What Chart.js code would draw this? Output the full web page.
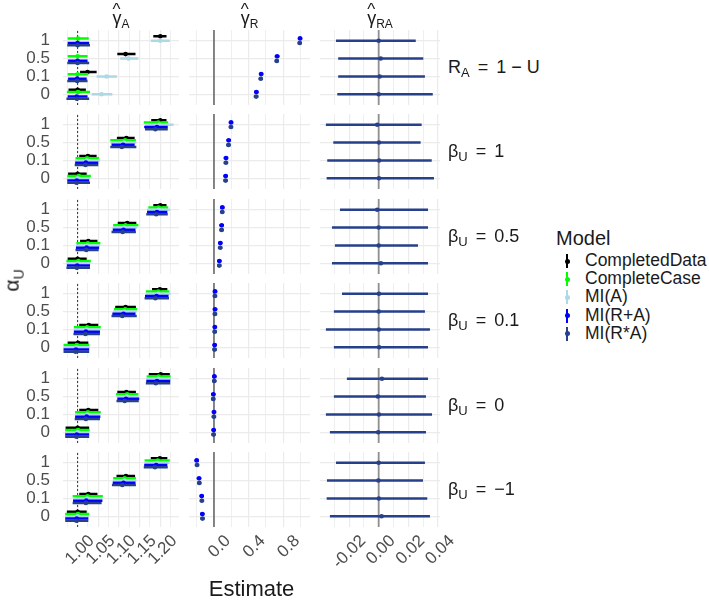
<!DOCTYPE html>
<html><head><meta charset="utf-8">
<script src="https://cdn.jsdelivr.net/npm/chart.js@4.4.1/dist/chart.umd.min.js"></script>
<style>
body{margin:0;background:#fff;}
#wrap{position:relative;width:709px;height:600px;overflow:hidden;background:#fff;font-family:"Liberation Sans",Arial,sans-serif;}
canvas{position:absolute;}
.t{position:absolute;white-space:nowrap;color:#1a1a1a;line-height:1;}
sub{vertical-align:baseline;position:relative;}
</style></head><body><div id="wrap"></div>
<script>
// ---------------- data ----------------
const alphaLevels = ["0","0.1","0.5","1"];
const models = ["CompletedData","CompleteCase","MI(A)","MI(R+A)","MI(R*A)"];
const modelColors = ["#000000","#00FF00","#ADD8E6","#0000FF","#27408B"];
const rowSymbol = ["R","β","β","β","β","β"];
const rowSub = ["A","U","U","U","U","U"];
const rowValue = ["1 − U","1","0.5","0.1","0","−1"];
const colHeadSub = ["A","R","RA"];

// gamma_A : [row][model][alpha 0,0.1,0.5,1]
const gA_est = [
 [[1.000,1.024,1.116,1.200],[1.001,1.000,1.000,1.001],[1.058,1.070,1.123,1.200],[0.998,0.999,1.000,1.000],[0.998,0.999,1.000,1.000]],
 [[1.000,1.025,1.118,1.200],[1.003,1.023,1.115,1.195],[1.000,1.022,1.112,1.198],[0.998,1.020,1.110,1.192],[0.997,1.019,1.107,1.188]],
 [[1.000,1.026,1.120,1.200],[1.002,1.025,1.116,1.196],[1.001,1.024,1.113,1.196],[0.999,1.022,1.111,1.192],[0.998,1.021,1.109,1.190]],
 [[1.001,1.027,1.116,1.199],[0.998,1.023,1.115,1.195],[0.997,1.022,1.113,1.195],[0.996,1.020,1.111,1.191],[0.995,1.019,1.108,1.188]],
 [[1.000,1.026,1.118,1.201],[1.001,1.025,1.120,1.196],[1.000,1.024,1.119,1.195],[0.998,1.022,1.117,1.192],[0.997,1.020,1.114,1.189]],
 [[1.000,1.026,1.117,1.199],[1.001,1.024,1.114,1.194],[1.000,1.023,1.113,1.193],[0.998,1.021,1.111,1.190],[0.997,1.020,1.108,1.187]]
];
const gA_lo = [
 [[0.978,1.006,1.096,1.183],[0.974,0.976,0.976,0.976],[1.034,1.046,1.103,1.177],[0.976,0.977,0.977,0.976],[0.973,0.975,0.975,0.975]],
 [[0.977,1.004,1.095,1.178],[0.975,0.995,1.079,1.160],[0.974,0.994,1.080,1.163],[0.975,0.994,1.082,1.161],[0.975,0.993,1.079,1.163]],
 [[0.976,1.006,1.097,1.183],[0.973,0.997,1.086,1.171],[0.973,0.996,1.085,1.168],[0.974,0.996,1.085,1.168],[0.973,0.995,1.082,1.166]],
 [[0.976,1.004,1.091,1.180],[0.966,0.991,1.088,1.165],[0.966,0.991,1.086,1.165],[0.966,0.991,1.084,1.163],[0.966,0.990,1.082,1.162]],
 [[0.971,1.004,1.096,1.172],[0.970,0.994,1.093,1.167],[0.970,0.994,1.094,1.166],[0.970,0.994,1.096,1.166],[0.970,0.993,1.094,1.165]],
 [[0.974,1.004,1.094,1.177],[0.970,0.988,1.086,1.162],[0.970,0.989,1.085,1.162],[0.970,0.989,1.085,1.161],[0.970,0.988,1.083,1.160]]
];
const gA_hi = [
 [[1.020,1.046,1.140,1.215],[1.030,1.026,1.024,1.027],[1.084,1.095,1.147,1.223],[1.024,1.022,1.024,1.028],[1.028,1.024,1.028,1.030]],
 [[1.022,1.046,1.138,1.215],[1.032,1.052,1.141,1.219],[1.030,1.054,1.142,1.232],[1.028,1.050,1.138,1.218],[1.030,1.050,1.142,1.218]],
 [[1.022,1.048,1.142,1.215],[1.032,1.055,1.147,1.219],[1.031,1.054,1.144,1.224],[1.030,1.052,1.140,1.217],[1.030,1.051,1.141,1.218]],
 [[1.026,1.050,1.141,1.217],[1.028,1.056,1.144,1.222],[1.029,1.055,1.143,1.225],[1.028,1.054,1.140,1.220],[1.028,1.054,1.143,1.221]],
 [[1.028,1.050,1.141,1.223],[1.029,1.056,1.147,1.225],[1.029,1.055,1.148,1.226],[1.028,1.055,1.149,1.224],[1.028,1.054,1.148,1.224]],
 [[1.022,1.048,1.139,1.217],[1.028,1.061,1.141,1.223],[1.027,1.060,1.142,1.222],[1.026,1.060,1.140,1.217],[1.026,1.058,1.141,1.218]]
];

// gamma_R : [row][MI(R+A), MI(R*A)][alpha]
const gR_est = [
 [[0.490,0.545,0.730,0.995],[0.487,0.541,0.726,0.991]],
 [[0.135,0.139,0.170,0.197],[0.134,0.138,0.168,0.196]],
 [[0.062,0.073,0.089,0.096],[0.061,0.072,0.088,0.095]],
 [[0.008,0.010,0.012,0.012],[0.007,0.009,0.011,0.011]],
 [[-0.004,0.000,-0.008,0.004],[-0.005,-0.001,-0.009,0.003]],
 [[-0.135,-0.142,-0.173,-0.200],[-0.133,-0.140,-0.170,-0.196]]
];
const gR_lo = [
 [[0.464,0.519,0.703,0.969],[0.460,0.515,0.700,0.966]],
 [[0.108,0.112,0.144,0.171],[0.108,0.111,0.141,0.170]],
 [[0.036,0.046,0.062,0.070],[0.035,0.045,0.061,0.069]],
 [[-0.018,-0.016,-0.014,-0.014],[-0.019,-0.017,-0.015,-0.015]],
 [[-0.030,-0.026,-0.034,-0.022],[-0.031,-0.027,-0.035,-0.023]],
 [[-0.161,-0.168,-0.199,-0.226],[-0.159,-0.166,-0.196,-0.222]]
];
const gR_hi = [
 [[0.516,0.571,0.757,1.021],[0.514,0.567,0.752,1.017]],
 [[0.161,0.165,0.196,0.223],[0.160,0.164,0.194,0.222]],
 [[0.088,0.099,0.115,0.122],[0.087,0.098,0.114,0.121]],
 [[0.034,0.036,0.038,0.038],[0.033,0.035,0.037,0.037]],
 [[0.022,0.026,0.018,0.030],[0.021,0.025,0.017,0.029]],
 [[-0.109,-0.116,-0.147,-0.174],[-0.107,-0.114,-0.144,-0.170]]
];

// gamma_RA : [row][alpha]  (MI(R*A) only)
const gRA_est = [
 [0.0000,0.0007,0.0014,0.0000],
 [0.0002,0.0003,0.0002,-0.0010],
 [0.0015,0.0000,0.0000,-0.0010],
 [0.0003,0.0001,0.0000,0.0002],
 [-0.0003,0.0002,-0.0006,0.0022],
 [0.0020,0.0001,-0.0002,0.0000]
];
const gRA_lo = [
 [-0.0280,-0.0274,-0.0274,-0.0289],
 [-0.0352,-0.0348,-0.0307,-0.0357],
 [-0.0316,-0.0296,-0.0316,-0.0262],
 [-0.0303,-0.0357,-0.0303,-0.0248],
 [-0.0330,-0.0357,-0.0303,-0.0215],
 [-0.0330,-0.0352,-0.0350,-0.0289]
];
const gRA_hi = [
 [0.0366,0.0313,0.0302,0.0251],
 [0.0374,0.0359,0.0284,0.0291],
 [0.0334,0.0266,0.0334,0.0334],
 [0.0334,0.0347,0.0313,0.0334],
 [0.0320,0.0361,0.0320,0.0334],
 [0.0347,0.0329,0.0300,0.0313]
];

// axis ticks
const xMajor = [[1.00,1.05,1.10,1.15,1.20],[0.0,0.4,0.8],[-0.02,0.00,0.02,0.04]];
const xMajorLabels = [["1.00","1.05","1.10","1.15","1.20"],["0.0","0.4","0.8"],["-0.02","0.00","0.02","0.04"]];
const xMinor = [[0.975,1.025,1.075,1.125,1.175,1.225],[-0.2,0.2,0.6,1.0],[-0.03,-0.01,0.01,0.03]];
const refX = [1, 0, 0];

// ---------------- layout ----------------
const colL=[63,189,320], colW=[116,121,120];
const rowT=[30,114,199,283,368,452], rowH=75;
const YW=50, XH=62;
const xMin=[0.9647,-0.289,-0.0397], xMax=[1.2452,1.110,0.0415];
const dodge=[[0.25,0.125,0,-0.125,-0.25],[0.13,-0.13],[0]];
const refStyle=[{c:'#333333',w:1,d:[2,2]},{c:'#3a3a3a',w:1.2,d:[]},{c:'#8f8f8f',w:1.8,d:[]}];
const FONT='"Liberation Sans", Arial, sans-serif';
const wrap=document.getElementById('wrap');

function panelSeries(r,c){
  if(c===0) return [0,1,2,3,4].map(m=>({m, est:gA_est[r][m], lo:gA_lo[r][m], hi:gA_hi[r][m]}));
  if(c===1) return [3,4].map((m,i)=>({m, est:gR_est[r][i], lo:gR_lo[r][i], hi:gR_hi[r][i]}));
  return [{m:4, est:gRA_est[r], lo:gRA_lo[r], hi:gRA_hi[r]}];
}
function isMajor(c,v){return xMajor[c].some(x=>Math.abs(x-v)<1e-9);}
function zeroPad(sc){sc.paddingTop=0;sc.paddingBottom=0;sc.paddingLeft=0;sc.paddingRight=0;}

for(let r=0;r<6;r++){
  for(let c=0;c<3;c++){
    const padR=(r===5&&c===2)?30:0;
    const w=colW[c]+(c===0?YW:0)+padR, h=rowH+(r===5?XH:0);
    const cv=document.createElement('canvas');
    cv.width=w; cv.height=h;
    cv.style.left=(colL[c]-(c===0?YW:0))+'px'; cv.style.top=rowT[r]+'px';
    cv.style.width=w+'px'; cv.style.height=h+'px';
    wrap.appendChild(cv);
    const ds=[];
    ds.push({data:[{x:refX[c],y:0.4},{x:refX[c],y:4.6}],showLine:true,borderColor:refStyle[c].c,
      borderWidth:refStyle[c].w,borderDash:refStyle[c].d,pointRadius:0,order:100});
    const ser=panelSeries(r,c);
    ser.forEach((s,i)=>{
      const off=dodge[c][i];
      const seg=[];
      for(let k=0;k<4;k++){
        seg.push({x:s.lo[k],y:k+1+off},{x:s.hi[k],y:k+1+off},{x:NaN,y:NaN});
      }
      const col=modelColors[s.m];
      ds.push({data:seg,showLine:true,spanGaps:false,borderColor:col,borderWidth:2.5,pointRadius:0,order:20-s.m*2});
      ds.push({data:s.est.map((v,k)=>({x:v,y:k+1+off})),showLine:false,pointRadius:2.3,
        pointBackgroundColor:col,pointBorderWidth:0,backgroundColor:col,order:19-s.m*2});
    });
    new Chart(cv,{type:'scatter',data:{datasets:ds},options:{
      responsive:false,animation:false,devicePixelRatio:1,events:[],
      layout:{padding:{left:0,right:padR,top:0,bottom:0},autoPadding:false},
      plugins:{legend:{display:false},tooltip:{enabled:false}},
      scales:{
        x:{type:'linear',min:xMin[c],max:xMax[c],
          afterBuildTicks:sc=>{sc.ticks=[...xMajor[c],...xMinor[c]].sort((a,b)=>a-b).map(v=>({value:v}));},
          afterFit:sc=>{sc.height=(r===5)?XH:0;zeroPad(sc);},
          border:{display:false},
          grid:{drawTicks:false,color:'#EBEBEB',lineWidth:ctx=>(ctx.tick&&isMajor(c,ctx.tick.value))?1.2:0.8},
          ticks:{display:r===5,autoSkip:false,minRotation:45,maxRotation:45,padding:4,labelOffset:14,
            color:'#4D4D4D',font:{family:FONT,size:17},
            callback:(v)=>{const i=xMajor[c].findIndex(x=>Math.abs(x-v)<1e-9);return i>=0?xMajorLabels[c][i]:'';}}},
        y:{type:'linear',min:0.4,max:4.6,
          afterBuildTicks:sc=>{sc.ticks=alphaLevels.map((a,i)=>({value:i+1}));},
          afterFit:sc=>{sc.width=(c===0)?YW:0;zeroPad(sc);},
          border:{display:false},
          grid:{drawTicks:false,color:'#EBEBEB',lineWidth:1.2},
          ticks:{display:c===0,autoSkip:false,padding:13,color:'#4D4D4D',font:{family:FONT,size:17},
            callback:(v)=>alphaLevels[Math.round(v)-1]}}
      }}});
  }
}

// ---------------- text ----------------
function addText(html,css){const d=document.createElement('div');d.className='t';d.innerHTML=html;Object.assign(d.style,css);wrap.appendChild(d);return d;}
// column headers
for(let c=0;c<3;c++){
  addText('<span style="position:relative;display:inline-block">γ<span style="position:absolute;left:0px;top:-8px;font-size:17px">^</span></span><sub style="font-size:12px;top:4px">'+colHeadSub[c]+'</sub>',
    {left:colL[c]+'px',width:colW[c]+'px',textAlign:'center',top:'9px',fontSize:'18px'});
}
// row strips
for(let r=0;r<6;r++){
  addText(rowSymbol[r]+'<sub style="font-size:13px;top:4px">'+rowSub[r]+'</sub><span style="margin:0 8px">=</span>'+rowValue[r],
    {left:'448px',top:(rowT[r]+rowH/2-10)+'px',fontSize:'18px'});
}
// axis titles
addText('Estimate',{left:colL[0]+'px',width:(colL[2]+colW[2]-colL[0])+'px',textAlign:'center',top:'578px',fontSize:'22px'});
addText('α<sub style="font-size:14px;top:5px">U</sub>',{left:'0px',top:'270px',fontSize:'21px',transform:'rotate(-90deg)',transformOrigin:'center'});
// legend
addText('Model',{left:'556px',top:'228px',fontSize:'20px'});
models.forEach((m,i)=>{
  const y=261+i*18.2;
  const ln=document.createElement('div');
  Object.assign(ln.style,{position:'absolute',left:'566px',top:(y-7)+'px',width:'2px',height:'14px',background:modelColors[i]});
  wrap.appendChild(ln);
  const dt=document.createElement('div');
  Object.assign(dt.style,{position:'absolute',left:'564.5px',top:(y-2.5)+'px',width:'5px',height:'5px',borderRadius:'50%',background:modelColors[i]});
  wrap.appendChild(dt);
  addText(m,{left:'585px',top:(y-9)+'px',fontSize:'17.5px'});
});
</script></body></html>
